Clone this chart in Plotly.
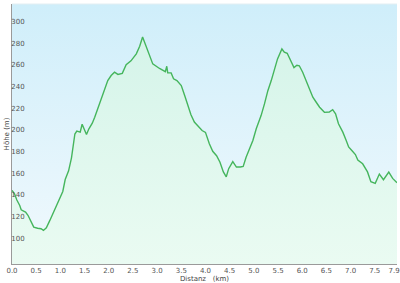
import plotly.graph_objects as go

dist_km = [0.00, 0.05, 0.10, 0.16, 0.19, 0.23, 0.28, 0.33, 0.40, 0.45, 0.53, 0.60, 0.65, 0.71,
           0.78, 0.85, 0.92, 0.98, 1.05, 1.10, 1.17, 1.23, 1.27, 1.30, 1.34, 1.41, 1.45, 1.49,
           1.54, 1.59, 1.66, 1.71, 1.76, 1.81, 1.91, 1.98, 2.05, 2.12, 2.19, 2.28, 2.36, 2.46,
           2.57, 2.64, 2.70, 2.77, 2.84, 2.91, 3.05, 3.17, 3.20, 3.22, 3.29, 3.34, 3.41, 3.50,
           3.57, 3.63, 3.70, 3.77, 3.86, 3.93, 4.00, 4.08, 4.15, 4.23, 4.30, 4.37, 4.43, 4.48,
           4.565, 4.64, 4.72, 4.78, 4.84, 4.91, 4.98, 5.05, 5.15, 5.22, 5.29, 5.36, 5.43, 5.49,
           5.58, 5.63, 5.69, 5.75, 5.83, 5.89, 5.94, 6.01, 6.08, 6.15, 6.22, 6.29, 6.36, 6.46,
           6.56, 6.63, 6.69, 6.75, 6.84, 6.91, 6.96, 7.04, 7.10, 7.15, 7.25, 7.35, 7.42, 7.51,
           7.595, 7.68, 7.79, 7.87, 7.96]
elev_m = [148, 145, 139, 134, 130, 129, 128, 125, 119, 114, 113, 112.5, 111, 113.5,
          120, 127, 133, 140, 147, 158, 166, 178, 189, 200, 202.6, 201.7, 209, 205,
          199.5, 204.8, 210, 215.5, 221.7, 228, 241.7, 249.3, 254, 257, 255, 256, 264, 267.5,
          274, 281, 289.5, 281.6, 274, 264.7, 260.5, 257.6, 262.5, 256.4, 256.4, 251, 249.3, 244.7,
          235.5, 226.3, 217.7, 211, 207, 203.2, 201.5, 191, 184, 180, 174, 165, 160.5, 168,
          174.5, 169.5, 169.5, 170, 178.6, 186, 194, 204.8, 217, 227.8, 240, 249.3, 260, 269.3,
          278.5, 275.5, 274.5, 269.3, 261.3, 263.5, 263, 257, 249.3, 240, 234, 229.3, 224.7, 220,
          220.3, 222.5, 218.6, 209.4, 201.7, 194, 188, 184, 181, 176, 172.5, 165, 156, 154.5,
          163, 157.8, 164.8, 159, 155]

x_ticks = [0.0, 0.5, 1.0, 1.5, 2.0, 2.5, 3.0, 3.5, 4.0, 4.5, 5.0, 5.5, 6.0, 6.5, 7.0, 7.5, 7.9]
x_tick_text = ["0.0", "0.5", "1.0", "1.5", "2.0", "2.5", "3.0", "3.5", "4.0", "4.5",
               "5.0", "5.5", "6.0", "6.5", "7.0", "7.5", "7.9"]
y_ticks = [100, 120, 140, 160, 180, 200, 220, 240, 260, 280, 300]

x_range = [0, 7.96]
y_range = [80, 320]

fig = go.Figure()

# background gradient (sky)
fig.add_trace(go.Scatter(
    x=[x_range[0], x_range[1]], y=[y_range[1], y_range[1]],
    mode="lines", line=dict(width=0), fill="tozeroy",
    fillgradient=dict(type="vertical", start=y_range[0], stop=y_range[1],
                      colorscale=[[0, "#f1f9fd"], [1, "#cfeefa"]]),
    hoverinfo="skip", showlegend=False))

# elevation profile
fig.add_trace(go.Scatter(
    x=dist_km, y=elev_m, mode="lines",
    line=dict(color="#45b55c", width=1.4),
    fill="tozeroy",
    fillgradient=dict(type="vertical", start=y_range[0], stop=y_range[1],
                      colorscale=[[0, "#eafbf2"], [1, "#d2f3e8"]]),
    showlegend=False))

font_family = "DejaVu Sans"

fig.update_layout(
    width=400, height=283,
    margin=dict(l=12, r=3, t=4, b=19),
    paper_bgcolor="white",
    plot_bgcolor="#eaf6fb",
    font=dict(family=font_family, size=7, color="#555555"),
    xaxis=dict(
        range=x_range, tickvals=x_ticks, ticktext=x_tick_text,
        showgrid=False, zeroline=False,
        showline=True, linecolor="#9a9a9a", linewidth=1,
        ticks="", tickfont=dict(size=7, color="#555555"),
        ticklabeloverflow="allow",
        title=dict(text="Distanz   (km)", font=dict(size=7, color="#444444"), standoff=2),
        automargin=False,
    ),
    yaxis=dict(
        range=y_range, tickvals=y_ticks,
        showgrid=True, gridcolor="#c5dde6", gridwidth=1,
        zeroline=False,
        showline=True, linecolor="#9a9a9a", linewidth=1,
        ticks="", ticklabelposition="outside",
        ticklabelstandoff=-15, ticklabelshift=-4, ticklabeloverflow="allow",
        tickfont=dict(size=7, color="#555555"),
        title=dict(text="Höhe (m)", font=dict(size=7, color="#444444"), standoff=0),
        automargin=False,
    ),
)

fig.add_shape(type="line", xref="paper", yref="paper", x0=0, x1=1, y0=1, y1=1,
              line=dict(color="#e3eef2", width=1))

fig.write_html("out.html")
